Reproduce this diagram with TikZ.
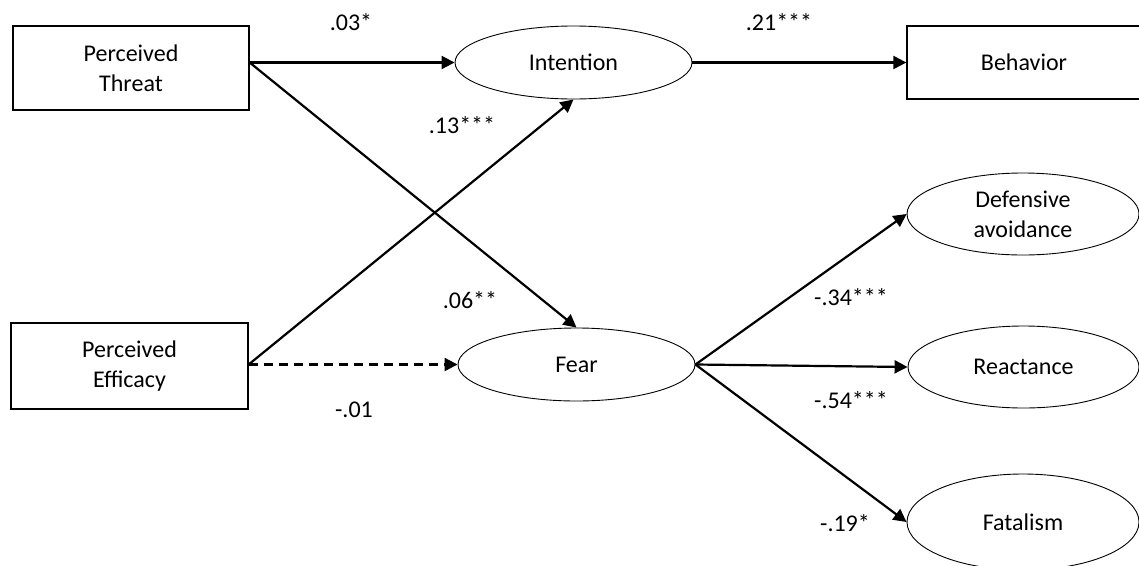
\documentclass[tikz,border=0pt]{standalone}
\usepackage{fontspec}
\setmainfont{Carlito}
\usetikzlibrary{arrows.meta,shapes.geometric}
\begin{document}
\begin{tikzpicture}[x=1pt,y=-1pt,
  font=\fontsize{24}{30}\selectfont,
  box/.style={draw,line width=1.3pt,rectangle,inner sep=0pt,align=center},
  oval/.style={draw,line width=0.9pt,ellipse,inner sep=0pt,align=center},
  link/.style={line width=2.2pt,-{Triangle[length=13pt,width=13pt]}},
  dlink/.style={link,dash pattern=on 9pt off 6pt},
  lbl/.style={inner sep=0pt}]
\useasboundingbox (0,0) rectangle (1139,565);
\node[box,minimum width=236pt,minimum height=84pt] (threat) at (131,68) {Perceived\\Threat};
\node[box,minimum width=237pt,minimum height=86pt] (efficacy) at (129.5,366) {Perceived\\Efficacy};
\node[box,minimum width=234pt,minimum height=73pt] (behavior) at (1024,62.5) {Behavior};
\node[oval,minimum width=237pt,minimum height=73pt] (intention) at (573.5,62.5) {Intention};
\node[oval,minimum width=237pt,minimum height=73pt] (fear) at (576.5,364.5) {Fear};
\node[oval,minimum width=232pt,minimum height=82pt] (defav) at (1023,214) {Defensive\\avoidance};
\node[oval,minimum width=231pt,minimum height=82pt] (react) at (1023.5,367) {Reactance};
\node[oval,minimum width=232pt,minimum height=96pt] (fatal) at (1023,522) {Fatalism};
\coordinate (ts) at (threat.east |- intention.west);
\coordinate (es) at (efficacy.east |- fear.west);
\draw[link] (ts) -- (intention.west);
\draw[link] (ts) -- (fear.north);
\draw[link] (es) -- (intention.south);
\draw[dlink] (es) -- (fear.west);
\draw[link] (intention.east) -- (behavior.west);
\draw[link] (fear.east) -- (defav.west);
\draw[link] (fear.east) -- (react.west);
\draw[link] (fear.east) -- (fatal.west);
\node[lbl] (l1) at (351,22) {.03*};
\node[lbl] (l2) at (779,22) {.21***};
\node[lbl] (l3) at (462,125) {.13***};
\node[lbl] (l4) at (470,300) {.06**};
\node[lbl] (l5) at (354,410) {-.01};
\node[lbl] (l6) at (851,297) {-.34***};
\node[lbl] (l7) at (851,400) {-.54***};
\node[lbl] (l8) at (845,523) {-.19*};
\end{tikzpicture}
\end{document}
